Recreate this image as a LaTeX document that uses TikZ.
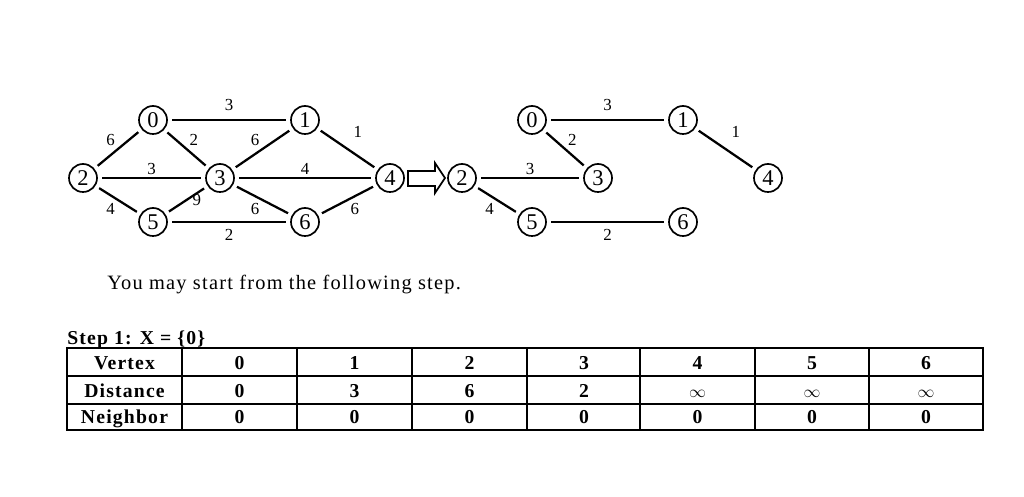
\documentclass[tikz,border=0pt]{standalone}
\usepackage{fontspec}
\setmainfont[LetterSpace=6]{Liberation Serif}
\usetikzlibrary{positioning}

\begin{document}
\begin{tikzpicture}[
        x=0.025cm, y=-0.025cm,
        vertex/.style = {circle, draw, line width=1.2pt, minimum size=0.7cm, inner sep=0pt, font=\fontsize{16}{16}\selectfont},
        link/.style = {draw, line width=1.6pt, shorten <=3pt, shorten >=3pt},
        weight/.style = {font=\fontsize{12}{12}\selectfont, inner sep=1.5pt},
        cell/.style = {font=\fontsize{14}{16}\selectfont\bfseries, inner sep=0pt, anchor=base},
        note/.style = {font=\fontsize{14.5}{16}\selectfont, inner sep=0pt, anchor=base west},
        grid/.style = {line width=0.9pt},
        frame/.style = {line width=1.4pt}
    ]
    \useasboundingbox (0,0) rectangle (1024,497);

    % full graph
    \node [vertex] (a0) at (153,120) {0};
    \node [vertex] (a1) at (305,120) {1};
    \node [vertex] (a2) at (83,178) {2};
    \node [vertex] (a3) at (220,178) {3};
    \node [vertex] (a4) at (390,178) {4};
    \node [vertex] (a5) at (153,222) {5};
    \node [vertex] (a6) at (305,222) {6};

    \draw [link] (a0) -- node[weight, above=4pt] (wa01) {3} (a1);
    \draw [link] (a0) -- node[weight, above left] (wa02) {6} (a2);
    \draw [link] (a0) -- node[weight, above right] (wa03) {2} (a3);
    \draw [link] (a3) -- node[weight, above left] (wa31) {6} (a1);
    \draw [link] (a1) -- node[weight, above right=6pt, pos=0.45] (wa14) {1} (a4);
    \draw [link] (a2) -- node[weight, above] (wa23) {3} (a3);
    \draw [link] (a3) -- node[weight, above] (wa34) {4} (a4);
    \draw [link] (a2) -- node[weight, below left] (wa25) {4} (a5);
    \draw [link] (a5) -- node[weight, right=2pt] (wa53) {9} (a3);
    \draw [link] (a3) -- node[weight, below left] (wa36) {6} (a6);
    \draw [link] (a4) -- node[weight, below right] (wa46) {6} (a6);
    \draw [link] (a5) -- node[weight, below=3pt] (wa56) {2} (a6);

    % open arrow
    \draw [line width=1.2pt] (408,171) -- (435,171) -- (435,163) -- (445,178)
        -- (435,193) -- (435,186) -- (408,186) -- cycle;

    % spanning tree
    \node [vertex] (b0) at (532,120) {0};
    \node [vertex] (b1) at (683,120) {1};
    \node [vertex] (b2) at (462,178) {2};
    \node [vertex] (b3) at (598,178) {3};
    \node [vertex] (b4) at (768,178) {4};
    \node [vertex] (b5) at (532,222) {5};
    \node [vertex] (b6) at (683,222) {6};

    \draw [link] (b0) -- node[weight, above=4pt] (wb01) {3} (b1);
    \draw [link] (b0) -- node[weight, above right] (wb03) {2} (b3);
    \draw [link] (b1) -- node[weight, above right=6pt, pos=0.45] (wb14) {1} (b4);
    \draw [link] (b2) -- node[weight, above] (wb23) {3} (b3);
    \draw [link] (b2) -- node[weight, below left] (wb25) {4} (b5);
    \draw [link] (b5) -- node[weight, below=3pt] (wb56) {2} (b6);

    \node [note] (hint) at (107,290) {You may start from the following step.};
    \node [note, font=\fontsize{14}{16}\selectfont\bfseries] (step) at (67,344) {Step 1: X = \{0\}};

    % table
    \foreach \x in {182,297,412,527,640,755,869}
        \draw [grid] (\x,348) -- (\x,430);
    \draw [grid] (67,376) -- (983,376);
    \draw [grid] (67,404) -- (983,404);
    \draw [frame] (67,348) rectangle (983,430);

    \node [cell] (hv) at (124.5,369) {Vertex};
    \node [cell] (hd) at (124.5,397) {Distance};
    \node [cell] (hn) at (124.5,423) {Neighbor};
    \foreach \i/\x/\d in {0/239.5/0, 1/354.5/3, 2/469.5/6, 3/584/2}
    {
        \node [cell] (v\i) at (\x,369) {\i};
        \node [cell] (d\i) at (\x,397) {\d};
        \node [cell] (n\i) at (\x,423) {0};
    }
    \foreach \i/\x in {4/697.5, 5/812, 6/926}
    {
        \node [cell] (v\i) at (\x,369) {\i};
        \node [cell, font=\fontsize{11.5}{12}\selectfont] (d\i) at (\x,397) {$\infty$};
        \node [cell] (n\i) at (\x,423) {0};
    }
\end{tikzpicture}
\end{document}
